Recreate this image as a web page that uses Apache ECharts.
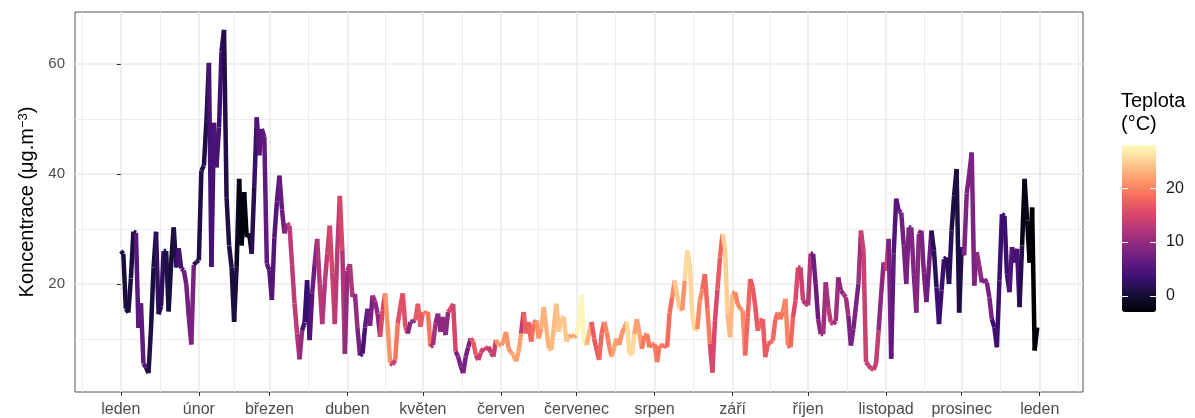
<!DOCTYPE html>
<html>
<head>
<meta charset="utf-8">
<script src="https://cdn.jsdelivr.net/npm/echarts@6.0.0/dist/echarts.min.js"></script>
<style>html,body{margin:0;padding:0;background:#fff}#c{width:1195px;height:418px}</style>
</head>
<body>
<div id="c"></div>
<script>
// Daily concentration (µg.m-3), day index 0 = 1 January
var concentration = [
26,25.5,15.5,14.8,21,29.5,29.3,12,16.5,5.5,
4.8,3.8,12,23,29.5,14.5,16,26,26,15,
24,30.3,23,26.5,22.8,22.5,20,14,9,23.5,
24,24.3,40.6,41.5,49.6,60.2,23.1,49.3,41.2,48.4,
62.3,66.2,35.8,27,23,13.1,23.1,39.1,27,36.7,
28.5,29.2,25.5,37.6,50.3,43.4,48.2,46.7,23.7,22.5,
17.1,28.5,35,39.7,33.6,29.2,31,30.6,23.6,16.5,
11,6.3,11.6,13,20.7,9.8,18.2,23.6,28.2,20,
12.7,20,25.5,30.6,22,12.7,26,36,26,7.3,
22.4,23.6,17.6,18.2,12,7,7.3,12.1,15.5,12.4,
17.9,16.8,14.6,10.4,15.2,18.3,12.2,5.6,5.3,6.2,
12.8,15.8,18.3,12.2,11,13.1,13.2,13.4,16.4,12.2,
14.9,14.6,14.9,8.6,8.9,12.8,14.6,11.3,14,10.7,
14.9,15.5,16.4,7.7,6.8,5,3.8,6.8,8.5,10.1,
9.5,7.1,6.2,7.5,8.3,8,8.6,7.5,6.8,9.8,
8.9,8.9,9.5,11.3,8.3,7.5,7.1,5.9,7.7,11,
14.9,11,13.1,9.5,12.8,13.4,10.1,11.9,15.8,12,
8.3,8,11.9,16.4,11.3,13.7,14,9.5,10.4,10.7,
10.4,10.7,13,18,9.2,8.9,11,13.1,10.1,8,
6.2,11,13.1,11.3,8.6,6.8,8.5,10.1,8.9,11,
12,13.1,7.4,7.1,10.9,13.6,11,8.2,10.6,10.9,
8.5,9,9.1,5.8,8.8,8.8,8.8,8.5,14.8,17.5,
20.6,17.9,15.5,15.2,20.6,26.1,23.6,14.5,11.5,11.8,
17,19,21.8,15.5,9.1,3.9,13.3,19,24.8,29.1,
26.7,14.5,10.3,18.2,18.5,16.4,15.5,15.2,7,13.9,
20.9,19.4,16,11.5,13.3,13.6,6.7,9.1,9.4,9.7,
13.6,14.8,13.6,15,17.3,8.8,8.5,14,17,23,
23,17,16.4,16.1,25.5,25.5,20,13.6,10.9,10.9,
20.3,15.8,13,12.7,13.3,21.2,18.8,18.2,17.6,14.2,
8.8,11.8,16,20,29.7,26,5.8,5.2,4.6,4.4,
5.5,11.5,18,23.9,22.4,28.2,6.4,25.5,35.5,33.3,
33,27,20,30.3,30.3,21.8,14.8,29.1,29.7,22,
16.7,23.3,29.7,26.1,19.4,12.7,18.8,24.5,24.8,20,
29.7,36.1,40.9,14.8,26.7,25.2,36.4,40,43.9,19.7,
25.8,23.3,20.3,20.9,20.3,17.6,13.6,12.1,8.5,20.6,
32.7,32.4,21.8,18.5,26.7,23.9,26.4,15.8,27,39.1,
31.5,23.9,33.9,7.9,12.1
];
// Daily temperature (°C)
var temperature = [
0.5,0.5,0.5,0.5,0.5,1,5.5,6,6,5,
1.5,1,0.5,0.5,2.3,1.5,2,1,1,0.5,
0,1,3.5,4,5.5,7,7.5,8,8,1.5,
1.5,1,1,1,1.5,4,4,4.5,4,3.5,
2.5,1,1,1,0.5,0.5,-1,-2,-2.5,-2.5,
-2,-1,1.5,3,5,5.5,6,6,5.5,5,
5,5,5.5,6.5,7,9,13,13,13,13,
12,10,4,3,3,5,7,9,12,13,
12,13,14,15,14,13,13,15,12,10,
11,12,12,10,8,4,4,6,7,8,
11,9.5,9.5,15,15,21,21,14,14,19,
16,16,16,16,9,9,9,17,17,17,
19,19,19,11,11,9.5,9.5,9.5,9.5,9.5,
15,15,15,8,8,8,8,8,8,17,
17,14,14,14,14,14,14,14,14,21,
21,21,21,21,21,22,22,22,22,13.5,
17.5,17.5,17.5,18.5,18.5,21,21,23,23,23,
23.5,23.5,23.5,24,24.5,24.5,24.5,24.5,22,22,
22,27.5,27.5,27.5,27.5,23,23,17,17,17,
18,18,20,20,20,22,22,22,21,21,
21,25.5,25.5,25.5,22,22,22,19.5,19.5,19.5,
19.5,19.5,19.5,19,19,18.3,18.3,18.3,18.3,20.5,
24.5,24.5,24.5,21,25.5,25.5,25.5,25.5,26,20.5,
20.5,18,18,19.5,15.3,15.3,15.3,17,18,25,
25,23.5,23.5,20,20,20,20.5,20.5,18,18,
16.8,16.8,16.8,17.5,17.5,17,17,17,18,18,
18,19,19,20,20,18,18,15.5,15.5,14,
14,12.3,12.3,12.3,6.8,6.8,6.8,9.3,9.3,11,
11,13.2,13.2,11,11,9.4,9.4,11,11,8,
8,8,8,11,14,14,13.5,13.5,13.5,13.5,
13.5,9.5,9.5,10.5,13.7,8,6,5,5.5,6.5,
7.5,8,8,8,8.5,8.5,9,9,8,8,
7,7,1.8,1.8,3.2,3.2,3.2,2,2,2,
0.8,0.8,0.8,0.8,3.2,8.2,8.2,8.2,8.2,8.2,
9.4,9.4,8,8,8,8,3.4,3.4,3.4,3.2,
3.2,3.2,3.2,4.8,4.8,4.2,4.2,1.5,-2,-2,
-2,-3,-3,-3,-3
];
var monthLabels = ['leden','únor','březen','duben','květen','červen','červenec','srpen','září','říjen','listopad','prosinec','leden'];
var monthStartDays = [0,31,59,90,120,151,181,212,243,273,304,334,365];
var minorDays = [-15.5,15.5,45,74.5,105,135.5,166,196.5,227.5,258,288.5,319,349.5,380.5];
var yMajorTicks = [20,40,60];
var yMinorTicks = [10,30,50];
var legendTicks = [0,10,20];
var magma = ['#000004','#140e36','#3b0f70','#641a80','#8c2981','#b73779','#de4968','#f7705c','#fe9f6d','#fecf92','#fcfdbf'];

var FONT = '"Liberation Sans", Arial, Helvetica, sans-serif';

var segments = [];
for (var i = 0; i < concentration.length - 1; i++) {
  segments.push([i, concentration[i], i + 1, concentration[i + 1], temperature[i]]);
}

var gridLines = [];
minorDays.forEach(function (d) { gridLines.push({xAxis: d, lineStyle: {color: '#ebebeb', width: 0.9, type: 'solid'}}); });
yMinorTicks.forEach(function (v) { gridLines.push({yAxis: v, lineStyle: {color: '#ebebeb', width: 0.9, type: 'solid'}}); });
monthStartDays.forEach(function (d) { gridLines.push({xAxis: d, lineStyle: {color: '#ebebeb', width: 1.6, type: 'solid'}}); });
yMajorTicks.forEach(function (v) { gridLines.push({yAxis: v, lineStyle: {color: '#ebebeb', width: 1.6, type: 'solid'}}); });

var chart = echarts.init(document.getElementById('c'), null, {renderer: 'canvas'});
chart.setOption({
  animation: false,
  backgroundColor: '#ffffff',
  title: {
    text: 'Teplota\n(°C)', left: 1121, top: 90, padding: 0,
    textStyle: {fontFamily: FONT, fontSize: 20, fontWeight: 'normal', color: '#000', lineHeight: 23}
  },
  grid: [
    {left: 75, top: 12, width: 1008, height: 380, show: true, borderColor: '#555555', borderWidth: 1, backgroundColor: 'transparent'},
    {left: 1122, top: 145, width: 34, height: 167, show: false}
  ],
  xAxis: [
    {
      type: 'value', min: -18.2, max: 382.2, gridIndex: 0,
      axisLine: {show: false},
      splitLine: {show: false},
      axisTick: {show: true, length: 4, lineStyle: {color: '#333', width: 1}, customValues: monthStartDays},
      axisLabel: {
        customValues: monthStartDays, margin: 10, fontFamily: FONT, fontSize: 16, color: '#4d4d4d',
        formatter: function (v) { var k = monthStartDays.indexOf(v); return k >= 0 ? monthLabels[k] : ''; }
      }
    },
    {type: 'value', gridIndex: 1, show: false, min: 0, max: 1}
  ],
  yAxis: [
    {
      type: 'value', min: 0.36, max: 69.45, gridIndex: 0,
      axisLine: {show: false},
      splitLine: {show: false},
      axisTick: {show: true, length: 4, lineStyle: {color: '#333', width: 1}, customValues: yMajorTicks},
      axisLabel: {customValues: yMajorTicks, margin: 10, fontFamily: FONT, fontSize: 15, color: '#4d4d4d'},
      name: 'Koncentrace (μg.m{s|−3})',
      nameLocation: 'middle', nameGap: 37, nameRotate: 90,
      nameTextStyle: {
        fontFamily: FONT, fontSize: 20, color: '#000',
        rich: {s: {fontFamily: FONT, fontSize: 13, verticalAlign: 'top', color: '#000'}}
      }
    },
    {
      type: 'value', gridIndex: 1, min: -3, max: 28, position: 'left', z: 10,
      axisLine: {show: false}, splitLine: {show: false}, axisLabel: {show: false},
      axisTick: {show: true, inside: true, length: 6, lineStyle: {color: '#ffffff', width: 1}, customValues: legendTicks}
    },
    {
      type: 'value', gridIndex: 1, min: -3, max: 28, position: 'right', z: 10,
      axisLine: {show: false}, splitLine: {show: false},
      axisTick: {show: true, inside: true, length: 6, lineStyle: {color: '#ffffff', width: 1}, customValues: legendTicks},
      axisLabel: {customValues: legendTicks, margin: 10, fontFamily: FONT, fontSize: 16, color: '#1a1a1a'}
    }
  ],
  visualMap: {
    type: 'continuous', min: -3, max: 28, dimension: 4, seriesIndex: 1,
    calculable: false, orient: 'vertical', left: 1122, top: 145, padding: 0,
    itemWidth: 34, itemHeight: 167, text: null, showLabel: false, hoverLink: false,
    inRange: {color: magma}
  },
  series: [
    {
      type: 'line', xAxisIndex: 0, yAxisIndex: 0, data: [], z: 1, silent: true,
      markLine: {silent: true, z: 0, symbol: ['none', 'none'], label: {show: false}, emphasis: {disabled: true}, data: gridLines}
    },
    {
      type: 'custom', xAxisIndex: 0, yAxisIndex: 0, z: 10, silent: true,
      data: segments,
      encode: {x: [0, 2], y: [1, 3]},
      renderItem: function (params, api) {
        var p0 = api.coord([api.value(0), api.value(1)]);
        var p1 = api.coord([api.value(2), api.value(3)]);
        return {
          type: 'line',
          shape: {x1: p0[0], y1: p0[1], x2: p1[0], y2: p1[1]},
          style: {stroke: api.visual('color'), lineWidth: 4.5, lineCap: 'butt'}
        };
      }
    }
  ]
});
</script>
</body>
</html>
